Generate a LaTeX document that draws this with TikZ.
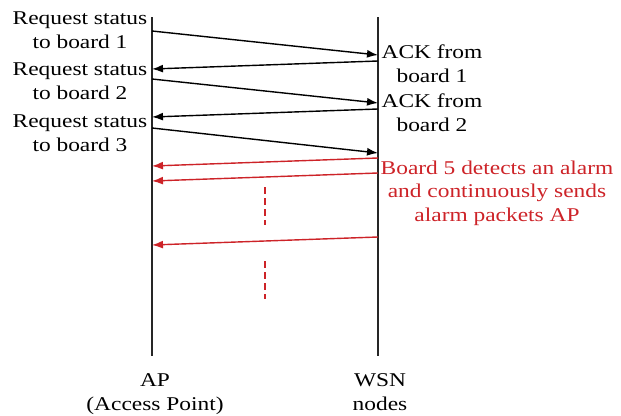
\documentclass[tikz,border=0pt]{standalone}
\usepackage{fontspec}
\setmainfont[FakeStretch=1.2]{Liberation Serif}
\usetikzlibrary{arrows.meta}
\definecolor{alarmred}{RGB}{205,35,40}
\begin{document}
\begin{tikzpicture}[x=1pt,y=-1pt,
  lifeline/.style={line width=1.3pt, draw=black!85},
  msg/.style={line width=1.4pt, draw=black, -{Latex[length=11pt,width=8pt]}},
  alarm/.style={msg, draw=alarmred, color=alarmred},
  gap/.style={line width=1.3pt, draw=alarmred, dash pattern=on 7pt off 4pt},
  lbl/.style={font=\fontsize{19.5}{23.5}\selectfont, align=center, inner sep=0pt, anchor=base},
  redlbl/.style={lbl, text=alarmred}]
\useasboundingbox (0,0) rectangle (621,415);
% lifelines
\coordinate (apTop) at (152,17);
\coordinate (apBot) at (152,356);
\coordinate (wsnTop) at (378,17);
\coordinate (wsnBot) at (378,356);
\draw[lifeline] (apTop) -- (apBot);
\draw[lifeline] (wsnTop) -- (wsnBot);
% message end points
\coordinate (a1) at (152,31);  \coordinate (w1) at (378,55);
\coordinate (w2) at (378,61);  \coordinate (a2) at (152,69);
\coordinate (a3) at (152,79);  \coordinate (w3) at (378,103);
\coordinate (w4) at (378,109); \coordinate (a4) at (152,117);
\coordinate (a5) at (152,128); \coordinate (w5) at (378,153);
\coordinate (w6) at (378,158); \coordinate (a6) at (152,166);
\coordinate (w7) at (378,173); \coordinate (a7) at (152,181);
\coordinate (w8) at (378,237); \coordinate (a8) at (152,245);
\draw[msg] (a1) -- (w1);
\draw[msg] (w2) -- (a2);
\draw[msg] (a3) -- (w3);
\draw[msg] (w4) -- (a4);
\draw[msg] (a5) -- (w5);
\draw[alarm] (w6) -- (a6);
\draw[alarm] (w7) -- (a7);
\draw[alarm] (w8) -- (a8);
% dashed gaps
\coordinate (g1) at (265,187); \coordinate (g2) at (265,225);
\coordinate (g3) at (265,261); \coordinate (g4) at (265,299);
\draw[gap] (g1) -- (g2);
\draw[gap] (g3) -- (g4);
% labels (base anchor = baseline of last line)
\node[lbl] (req1) at (80,48) {Request status\\to board 1};
\node[lbl] (req2) at (80,99) {Request status\\to board 2};
\node[lbl] (req3) at (80,151) {Request status\\to board 3};
\node[lbl] (ack1) at (432,82) {ACK from\\board 1};
\node[lbl] (ack2) at (432,131) {ACK from\\board 2};
\node[redlbl] (alarmtxt) at (497,221) {Board 5 detects an alarm\\and continuously sends\\alarm packets AP};
\node[lbl] (aplbl) at (155,410) {AP\\(Access Point)};
\node[lbl] (wsnlbl) at (380,410) {WSN\\nodes};
\end{tikzpicture}
\end{document}
